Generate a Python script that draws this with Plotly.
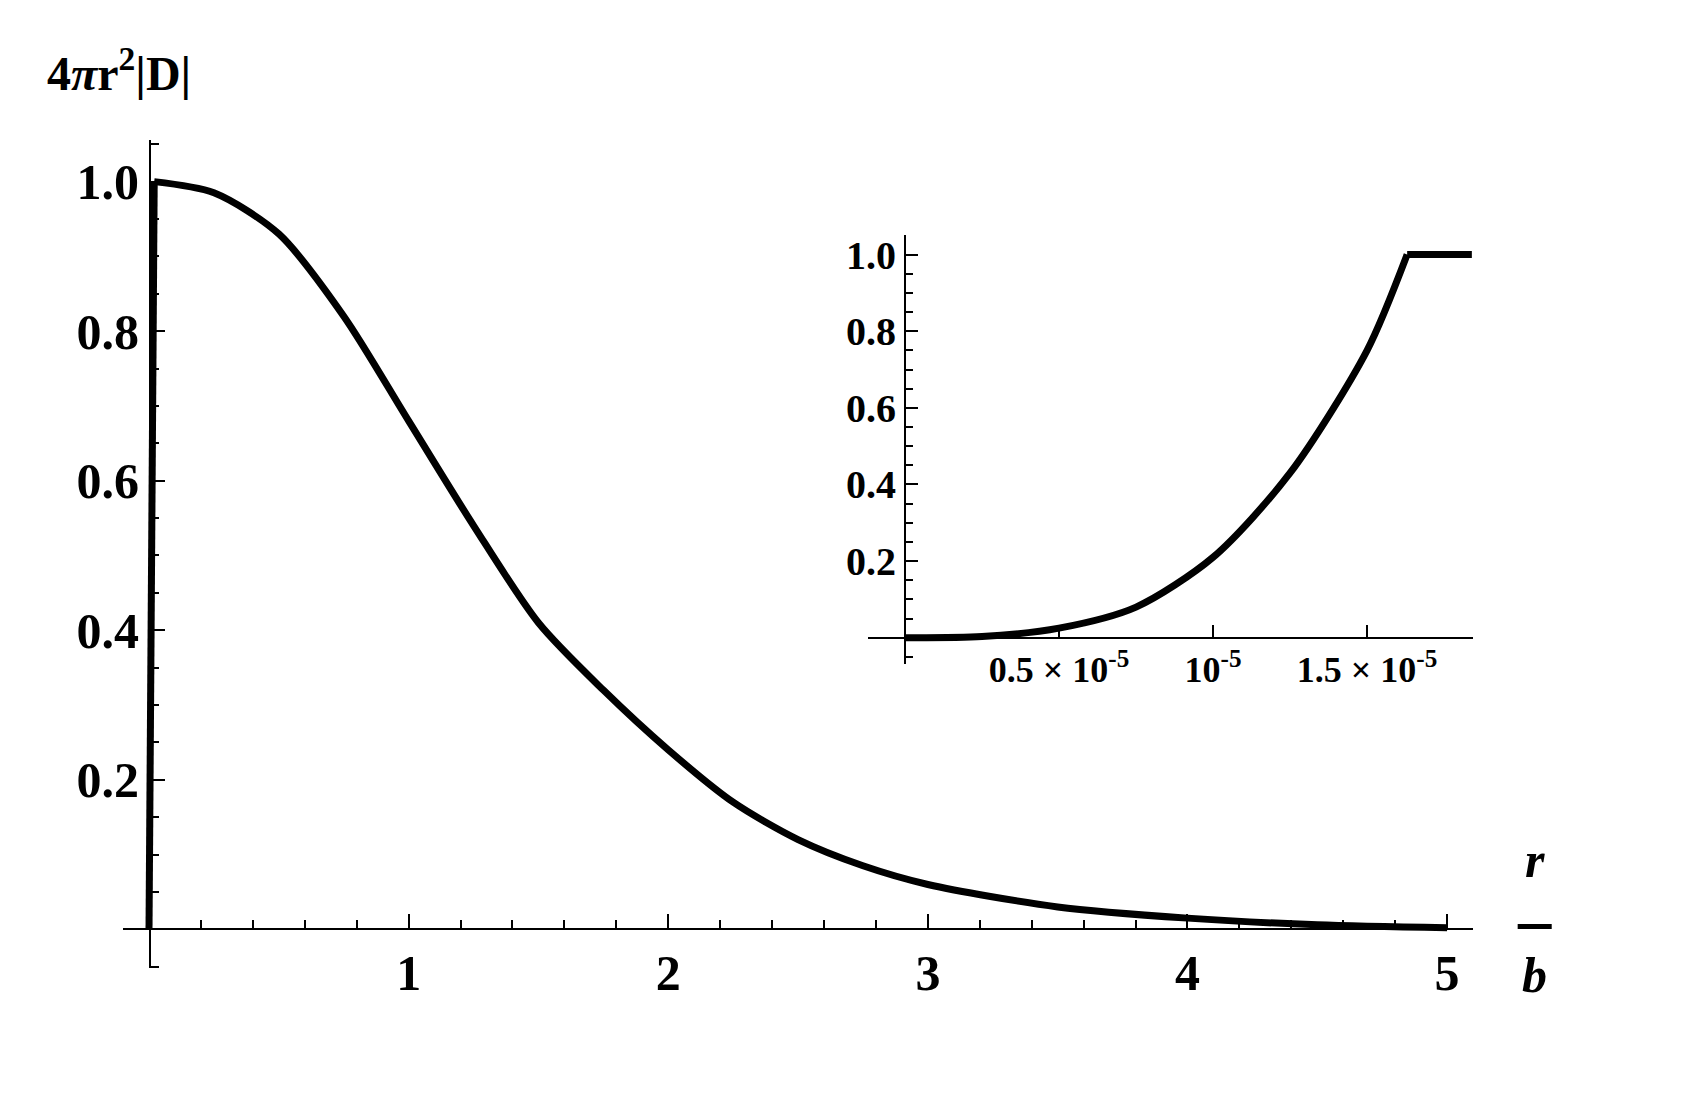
import plotly.graph_objects as go

main_r = [0.02, 0.25, 0.5, 0.75, 1.0, 1.25, 1.5, 1.75, 2.0, 2.25, 2.5, 2.75, 3.0, 3.5, 4.0, 4.5, 5.0]
main_d = [1.0, 0.985, 0.93, 0.82, 0.68, 0.54, 0.41, 0.32, 0.24, 0.17, 0.12, 0.085, 0.06, 0.03, 0.015, 0.006, 0.002]
jump_r = [0.0, 0.02]
jump_d = [0.0, 1.0]
inset_r = [0.0, 0.25e-5, 0.5e-5, 0.75e-5, 1.0e-5, 1.25e-5, 1.5e-5, 1.63e-5]
inset_d = [0.0, 0.003, 0.025, 0.08, 0.21, 0.43, 0.75, 1.0]
flat_r = [1.63e-5, 1.84e-5]
flat_d = [1.0, 1.0]

F = "Liberation Serif"
lw = 7
fig = go.Figure()
fig.add_trace(go.Scatter(x=jump_r, y=jump_d, mode="lines", line=dict(color="black", width=lw)))
fig.add_trace(go.Scatter(x=main_r, y=main_d, mode="lines", line=dict(color="black", width=lw, shape="spline", smoothing=0.8)))
fig.add_trace(go.Scatter(x=inset_r, y=inset_d, mode="lines", xaxis="x2", yaxis="y2", line=dict(color="black", width=lw, shape="spline", smoothing=0.8)))
fig.add_trace(go.Scatter(x=flat_r, y=flat_d, mode="lines", xaxis="x2", yaxis="y2", line=dict(color="black", width=lw)))

ax = dict(showgrid=False, zeroline=False, showline=True, linecolor="black", linewidth=2,
          ticks="inside", tickcolor="black", tickwidth=2, anchor="free")
fig.update_layout(
    width=1702, height=1109, showlegend=False, plot_bgcolor="white", paper_bgcolor="white",
    margin=dict(l=0, r=0, t=0, b=0),
    font=dict(family=F, color="black"),
    xaxis=dict(ax, domain=[0.0676, 0.8608], range=[-0.1, 5.1], position=0.1695,
               tickvals=[1, 2, 3, 4, 5], ticktext=["<b>%d</b>" % v for v in [1, 2, 3, 4, 5]],
               ticklen=14, tickfont=dict(size=50), minor=dict(dtick=0.2, ticks="inside", ticklen=8, tickcolor="black", tickwidth=1.5)),
    yaxis=dict(ax, domain=[0.1344, 0.8828], range=[-0.052, 1.056], position=0.0834,
               tickvals=[0.2, 0.4, 0.6, 0.8, 1.0], ticktext=["<b>%.1f</b>" % v for v in [0.2, 0.4, 0.6, 0.8, 1.0]],
               ticklen=14, tickfont=dict(size=50), minor=dict(dtick=0.05, ticks="inside", ticklen=8, tickcolor="black", tickwidth=1.5)),
    xaxis2=dict(ax, domain=[0.5053, 0.8608], range=[-0.12e-5, 1.844e-5], position=0.4328,
                tickvals=[0.5e-5, 1e-5, 1.5e-5],
                ticktext=["<b>0.5 × 10<sup>-5</sup></b>", "<b>10<sup>-5</sup></b>", "<b>1.5 × 10<sup>-5</sup></b>"],
                ticklen=12, tickfont=dict(size=36)),
    yaxis2=dict(ax, domain=[0.4094, 0.7971], range=[-0.068, 1.052], position=0.5270,
                tickvals=[0.2, 0.4, 0.6, 0.8, 1.0], ticktext=["<b>%.1f</b>" % v for v in [0.2, 0.4, 0.6, 0.8, 1.0]],
                ticklen=12, tickfont=dict(size=40), minor=dict(dtick=0.05, ticks="inside", ticklen=7, tickcolor="black", tickwidth=1.5)),
    annotations=[
        dict(text="<b>4<i>π</i>r<sup>2</sup>|D|</b>", xref="paper", yref="paper", x=0.022, y=0.975,
             xanchor="left", yanchor="top", showarrow=False, font=dict(size=48, family=F)),
        dict(text="<b><i>r</i></b>", xref="paper", yref="paper", x=0.897, y=0.205,
             xanchor="center", yanchor="bottom", showarrow=False, font=dict(size=50, family=F)),
        dict(text="<b><i>b</i></b>", xref="paper", yref="paper", x=0.897, y=0.155,
             xanchor="center", yanchor="top", showarrow=False, font=dict(size=50, family=F)),
    ],
    shapes=[dict(type="line", xref="paper", yref="paper", x0=0.887, x1=0.907, y0=0.172, y1=0.172,
                 line=dict(color="black", width=5))],
)
fig.write_html("out.html")
